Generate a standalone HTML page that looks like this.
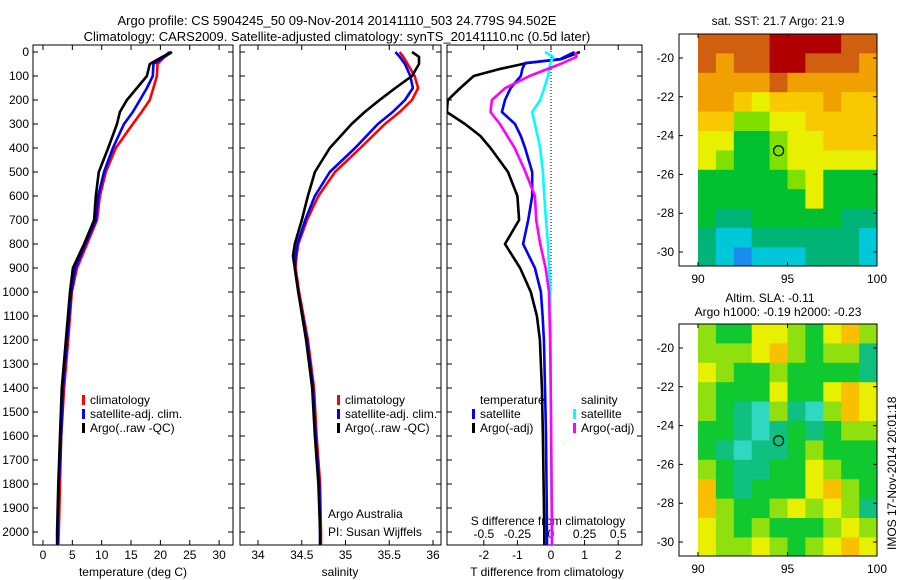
<!DOCTYPE html>
<html><head><meta charset="utf-8"><style>
body{margin:0;background:#fff}
svg{display:block;font-family:"Liberation Sans",sans-serif;font-size:12px}
</style></head><body>
<svg id="fig" width="900" height="580" viewBox="0 0 900 580">
<text x="337" y="25" text-anchor="middle" font-size="13">Argo profile: CS 5904245_50 09-Nov-2014 20141110_503 24.779S 94.502E</text>
<text x="337" y="41" text-anchor="middle" font-size="13">Climatology: CARS2009. Satellite-adjusted climatology: synTS_20141110.nc (0.5d later)</text>
<g id="g"></g>
</svg>
<script>
// ---- data ----
const depthT=[0,50,100,150,200,250,300,400,500,600,700,800,900,1000,1200,1400,1600,1800,2000,2060];
const tempArgo=[21.8,18.2,17.7,16.0,14.3,13.1,12.6,11.1,9.5,9.0,8.7,7.0,5.1,4.6,3.9,3.2,2.9,2.6,2.4,2.4];
const tempSat=[22.0,18.8,18.7,17.7,16.5,15.3,13.8,11.9,10.4,9.4,9.0,7.2,5.5,4.8,4.1,3.4,3.1,2.7,2.5,2.5];
const tempClim=[21.5,19.5,19.4,18.8,18.2,16.8,15.3,12.4,10.7,9.7,9.2,7.5,5.8,4.9,4.3,3.6,3.1,2.9,2.7,2.6];
const depthS=[0,20,50,100,150,200,250,300,400,500,600,700,800,850,900,1000,1200,1400,1600,1800,2000,2060];
const salArgo=[35.76,35.84,35.84,35.76,35.57,35.39,35.22,35.07,34.82,34.65,34.57,34.50,34.42,34.40,34.42,34.46,34.55,34.62,34.65,34.69,34.71,34.71];
const salSat=[35.57,35.62,35.68,35.74,35.77,35.68,35.54,35.37,35.11,34.82,34.65,34.54,34.45,34.43,34.42,34.46,34.56,34.63,34.66,34.70,34.71,34.71];
const salClim=[35.62,35.66,35.71,35.79,35.83,35.76,35.62,35.45,35.17,34.88,34.69,34.56,34.46,34.44,34.43,34.47,34.57,34.64,34.67,34.71,34.72,34.72];
const depthDT=[0,30,46,70,100,150,200,250,300,350,400,500,600,700,800,900,1000,1100,1200,1400,1600,2000,2060];
const dTArgo=[0.86,0.3,-0.7,-1.5,-2.3,-2.7,-3.07,-3.1,-2.56,-2.1,-1.8,-1.28,-1.0,-0.95,-1.37,-0.92,-0.6,-0.42,-0.33,-0.27,-0.24,-0.2,-0.2];
const dTSat=[0.7,0.27,-0.77,-0.85,-0.9,-1.2,-1.37,-1.46,-1.07,-0.9,-0.77,-0.56,-0.56,-0.68,-0.83,-0.48,-0.3,-0.25,-0.21,-0.18,-0.15,-0.12,-0.12];
const depthDS=[0,20,50,100,150,200,250,300,400,500,600,700,800,900,1000,1200,1500,2000,2060];
const dSArgo=[0.18,0.19,0.07,-0.16,-0.34,-0.44,-0.45,-0.38,-0.27,-0.19,-0.12,-0.11,-0.08,-0.04,-0.015,-0.007,0,0.007,0.007];
const dSSat=[-0.045,0.015,-0.007,-0.022,-0.05,-0.08,-0.14,-0.12,-0.08,-0.06,-0.05,-0.037,-0.022,-0.015,-0.007,-0.003,0,0.007,0.007];
const depthTicks=[0,100,200,300,400,500,600,700,800,900,1000,1100,1200,1300,1400,1500,1600,1700,1800,1900,2000];
const tempTicks=[0,5,10,15,20,25,30];
const salTicks=[34,34.5,35,35.5,36];
const salTickLabels=["34","34.5","35","35.5","36"];
const dTTicks=[-2,-1,0,1,2];
const dSTicks=[-0.5,-0.25,0,0.25,0.5];
const dSTickLabels=["-0.5","-0.25","0","0.25","0.5"];
const lonTicks=[90,95,100];
const latTicks=[-20,-22,-24,-26,-28,-30];
const sstGrid=[
[8,8,8,8,9,9,9,9,8,8],[8,7,8,8,9,9,8,8,8,7],[7,7,7,7,8,7,7,7,7,7],[7,7,6,5,6,6,6,7,6,6],
[6,6,4,4,5,5,6,6,6,6],[5,5,3,3,4,5,5,6,6,6],[5,4,3,3,4,5,5,5,5,5],[3,3,3,3,3,4,5,3,3,3],
[3,3,3,3,3,3,5,3,3,3],[3,2,2,3,3,3,3,3,2,2],[2,1,1,2,2,2,2,2,2,1],[2,1,0,1,1,1,2,2,2,1]];
const slaGrid=[
[3,2,2,4,4,3,2,4,5,3],[3,3,3,4,5,3,2,3,3,1],[4,3,2,2,3,2,2,2,2,1],[3,2,2,2,4,2,2,4,5,4],
[3,2,1,0,3,1,0,3,5,4],[2,2,1,0,1,2,1,2,3,3],[2,1,0,1,1,2,3,2,2,2],[3,2,1,1,2,2,4,3,2,2],
[5,2,1,2,2,2,4,5,3,2],[5,3,2,2,3,4,3,4,3,1],[4,3,2,3,2,2,2,3,4,3],[4,3,3,4,3,2,3,4,5,4]];
const argoLon=94.502, argoLat=-24.779;
const sstColors=["#1a8cf0","#00c8d8","#00b478","#00c030","#80e000","#e8f000","#f8c800","#f0a000","#d06010","#b00000"];
const slaColors=["#30d8c0","#10c080","#10c830","#90e010","#e8f000","#f8c000"];

// ---- helpers ----
const NS="http://www.w3.org/2000/svg";
const G=document.getElementById('g');
function mk(tag,attrs,parent){const e=document.createElementNS(NS,tag);for(const k in attrs)e.setAttribute(k,attrs[k]);(parent||G).appendChild(e);return e;}
const yTop=52, yPer=0.24;
const yD=d=>yTop+d*yPer;
const xT=v=>43+v*5.87;
const xS=v=>258+(v-34)*87.5;
const xDT=v=>551+v*33.6;
const xDS=v=>551+v*134.4;
const panels=[[33,233],[240,441],[447,642]];
const pTop=45,pBot=545;

panels.forEach((p,i)=>{
  const r=mk('rect',{x:p[0],y:pTop,width:p[1]-p[0],height:pBot-pTop,fill:'none',stroke:'#000','stroke-width':1});
  
  
  depthTicks.forEach(d=>{
    const l=mk('path',{d:`M${p[0]} ${yD(d)}h5M${p[1]} ${yD(d)}h-5`,stroke:'#000'});
    
    
  });
});
depthTicks.forEach(d=>{
  const t=mk('text',{x:29,y:yD(d)+4,'text-anchor':'end'});t.textContent=d;
  
  
});
function xticks(ticks,labels,fx,p,ly){
  ticks.forEach((v,i)=>{
    const x=fx(v);
    const l=mk('path',{d:`M${x} ${pBot}v-5M${x} ${pTop}v5`,stroke:'#000'});
    
    
    const t=mk('text',{x:x,y:ly,'text-anchor':'middle'});t.textContent=labels?labels[i]:v;
    
    
  });
}
xticks(tempTicks,null,xT,panels[0],559);
xticks(salTicks,salTickLabels,xS,panels[1],559);
xticks(dTTicks,null,xDT,panels[2],559);
dSTicks.forEach((v,i)=>{
  const t=mk('text',{x:xDS(v),y:538,'text-anchor':'middle'});t.textContent=dSTickLabels[i];
  
  
});
[["temperature (deg C)",133],["salinity",340],["T difference from climatology",547]].forEach(a=>{
  const t=mk('text',{x:a[1],y:576,'text-anchor':'middle'});t.textContent=a[0];
  
  
});
const st=mk('text',{x:548,y:525,'text-anchor':'middle'});st.textContent="S difference from climatology";


const zl=mk('line',{x1:xDT(0),x2:xDT(0),y1:pTop,y2:pBot,stroke:'#000','stroke-dasharray':'1,2'});



function line(xs,ds,fx,color,name,clip){
  const pts=xs.map((v,i)=>`${fx(v).toFixed(1)},${Math.min(yD(ds[i]),pBot).toFixed(1)}`).join(' ');
  const l=mk('polyline',{points:pts,fill:'none',stroke:color,'stroke-width':2.6,'stroke-linejoin':'round','clip-path':clip});
  
  
}
const defs=mk('defs',{});
panels.forEach((p,i)=>{const c=mk('clipPath',{id:'c'+i},defs);mk('rect',{x:p[0],y:pTop,width:p[1]-p[0],height:pBot-pTop},c);});
line(tempClim,depthT,xT,'#f00','temp-climatology-line','url(#c0)');
line(tempSat,depthT,xT,'#00f','temp-satellite-line','url(#c0)');
line(tempArgo,depthT,xT,'#000','temp-argo-line','url(#c0)');
line(salClim,depthS,xS,'#f00','sal-climatology-line','url(#c1)');
line(salSat,depthS,xS,'#00f','sal-satellite-line','url(#c1)');
line(salArgo,depthS,xS,'#000','sal-argo-line','url(#c1)');
line(dTArgo,depthDT,xDT,'#000','tdiff-argo-line','url(#c2)');
line(dTSat,depthDT,xDT,'#00f','tdiff-satellite-line','url(#c2)');
line(dSSat,depthDS,xDS,'#0ff','sdiff-satellite-line','url(#c2)');
line(dSArgo,depthDS,xDS,'#f0f','sdiff-argo-line','url(#c2)');

function legend(x,y,items,name){
  items.forEach((it,i)=>{
    if(it[1]){const b=mk('rect',{x:x,y:y+i*14-9,width:3,height:10,fill:it[1]});
      
      }
    const t=mk('text',{x:x+8,y:y+i*14});t.textContent=it[0];
    
    
  });
}
legend(82,404,[["climatology","#f00"],["satellite-adj. clim.","#00f"],["Argo(..raw -QC)","#000"]],'temp-legend');
legend(337,404,[["climatology","#f00"],["satellite-adj. clim.","#00f"],["Argo(..raw -QC)","#000"]],'sal-legend');
legend(472,404,[["temperature",null],["satellite","#00f"],["Argo(-adj)","#000"]],'tdiff-legend');
legend(573,404,[["salinity",null],["satellite","#0ff"],["Argo(-adj)","#f0f"]],'sdiff-legend');
const a1=mk('text',{x:328,y:518});a1.textContent="Argo Australia";


const a2=mk('text',{x:328,y:536});a2.textContent="PI: Susan Wijffels";



// ---- maps ----
function map(top,grid,colors,name){
  const L=679,R=877,bot=top+232;
  const xL=lon=>698+(lon-90)*17.9;
  const yL=lat=>top+24+(-20-lat)*19.4;
  const latTop=-20+24/19.4;
  const rows=grid.length;
  grid.forEach((row,ri)=>{
    const la0=latTop-ri, la1=Math.max(latTop-ri-1,-30.7);
    row.forEach((v,ci)=>{
      const c=mk('rect',{x:xL(90+ci),y:yL(la0),width:17.9+0.4,height:yL(la1)-yL(la0)+0.4,fill:colors[v]});
      
      
    });
  });
  const fr=mk('rect',{x:L,y:top,width:R-L,height:bot-top,fill:'none',stroke:'#000'});
  
  
  lonTicks.forEach(v=>{
    const x=xL(v);
    const tk=mk('path',{d:`M${x} ${bot}v-4M${x} ${top}v4`,stroke:'#000'});
    
    
    const t=mk('text',{x:x,y:bot+17,'text-anchor':'middle'});t.textContent=v;
    
    
  });
  latTicks.forEach(v=>{
    const y=yL(v);
    const tk=mk('path',{d:`M${L} ${y}h4M${R} ${y}h-4`,stroke:'#000'});
    
    
    const t=mk('text',{x:L-5,y:y+4,'text-anchor':'end'});t.textContent=v;
    
    
  });
  const c=mk('circle',{cx:xL(argoLon),cy:yL(argoLat),r:5,fill:'none',stroke:'#000','stroke-width':1.2});
  
  
}
map(34,sstGrid,sstColors,'sst-map');
map(324,slaGrid,slaColors,'sla-map');
const t1=mk('text',{x:778,y:25,'text-anchor':'middle'});t1.textContent="sat. SST: 21.7 Argo: 21.9";


const t2=mk('text',{x:770,y:302,'text-anchor':'middle'});t2.textContent="Altim. SLA: -0.11";


const t3=mk('text',{x:778,y:316,'text-anchor':'middle'});t3.textContent="Argo h1000: -0.19 h2000: -0.23";


const t4=mk('text',{x:0,y:0,transform:'translate(896,550) rotate(-90)'});t4.textContent="IMOS 17-Nov-2014 20:01:18";


</script>
</body></html>
